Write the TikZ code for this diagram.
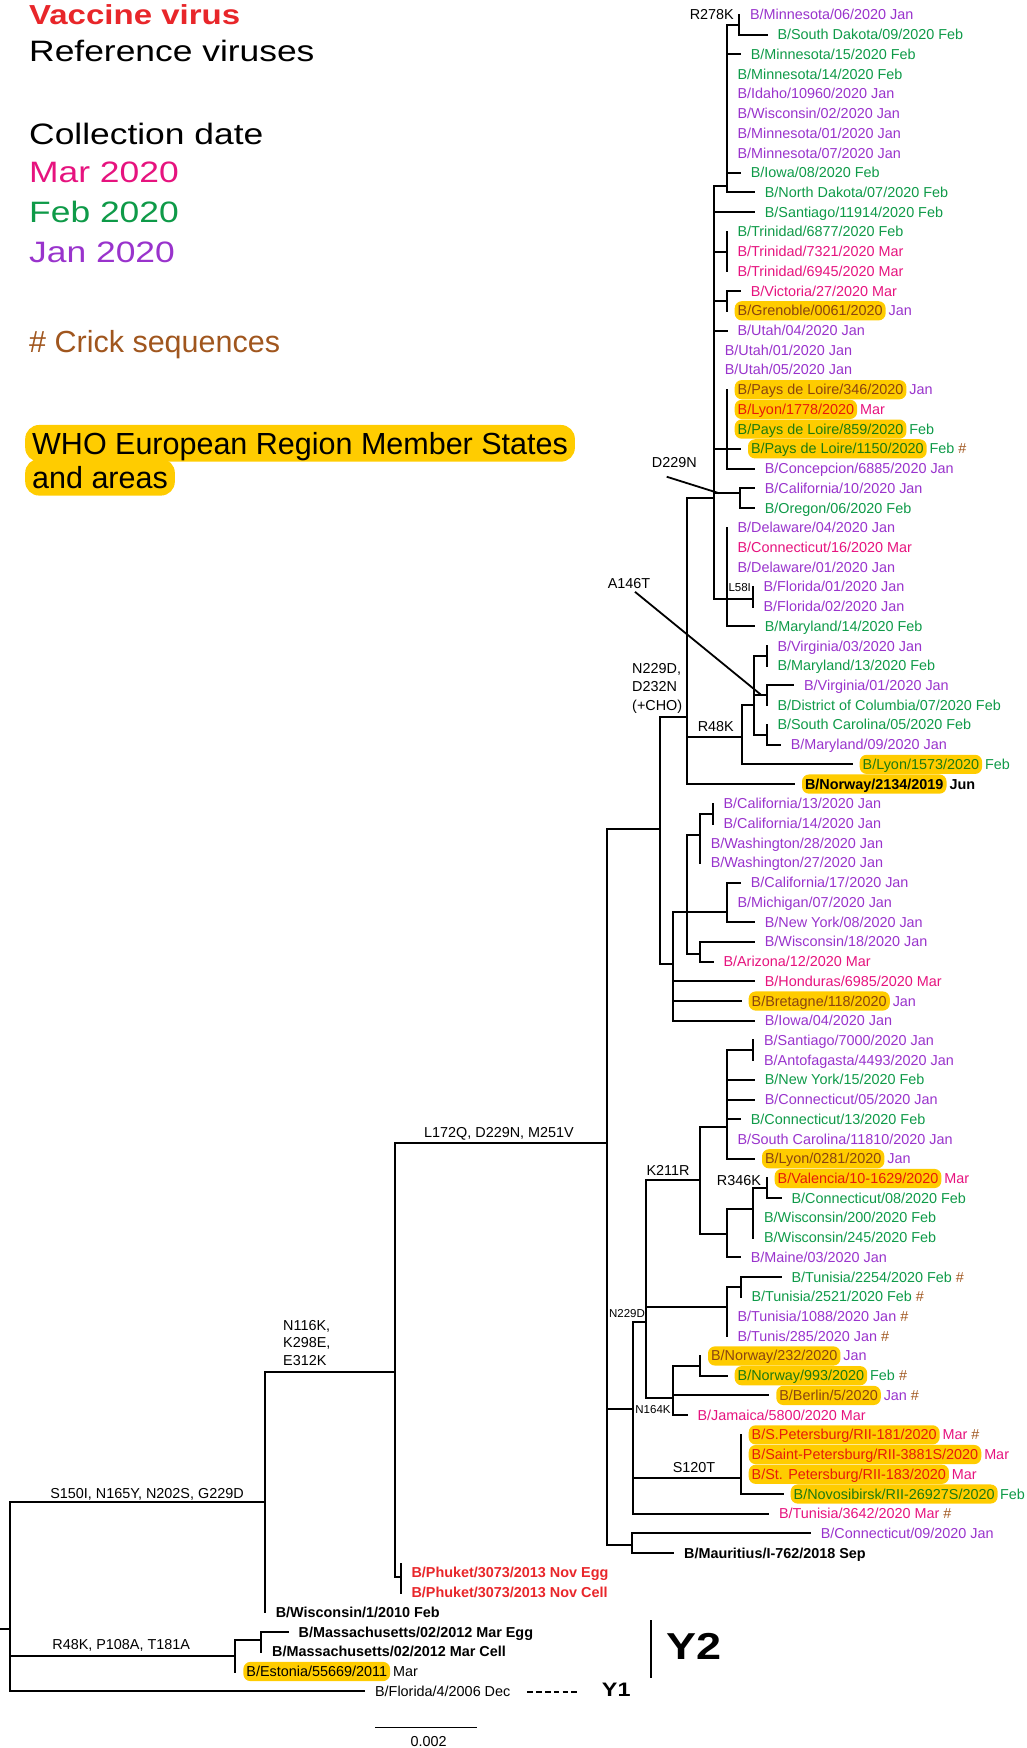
\documentclass[tikz,border=0pt]{standalone}
\usepackage{fontspec}
\setmainfont{Liberation Sans}
\newfontfamily\legendfont[FakeStretch=1.2]{Liberation Sans}
\usetikzlibrary{positioning}

\definecolor{jan}{HTML}{9933CC}
\definecolor{feb}{HTML}{0E9A48}
\definecolor{mar}{HTML}{E6137E}
\definecolor{crick}{HTML}{A0561E}
\definecolor{vacc}{HTML}{E8262A}
\definecolor{hly}{HTML}{FFCC00}
\definecolor{janhl}{HTML}{8A4410}
\definecolor{febhl}{HTML}{1E7A0E}
\definecolor{marhl}{HTML}{E61A0A}

\newcommand\leaffont{\fontsize{14.4}{17}\selectfont}
\newcommand\minifont{\fontsize{11.5}{13}\selectfont}
\newcommand\crk{\textcolor{crick}{\#}}

\begin{document}
\begin{tikzpicture}[x=1pt,y=-19.72pt,
    br/.style={line width=2pt,line cap=rect},
    ptr/.style={line width=1.8pt},
    lf/.style={anchor=west,inner xsep=10.6pt,inner ysep=0pt,text height=11pt,text depth=1pt,font=\leaffont},
    hl/.style={anchor=west,fill=hly,rounded corners=7pt,inner xsep=3pt,outer xsep=8pt,inner ysep=3.6pt,
      text height=11pt,text depth=1pt,font=\leaffont},
    mon/.style={inner sep=0pt,outer sep=0pt,text height=11pt,text depth=1pt,font=\leaffont},
    mut/.style={inner sep=0pt,font=\leaffont},
    smut/.style={inner sep=0pt,font=\minifont},
    leg/.style={anchor=base west,inner sep=0pt},
    whobox/.style={anchor=west,fill=hly,rounded corners=14pt,inner xsep=7pt,inner ysep=5.35pt,
      text height=24pt,text depth=2pt,font=\fontsize{30.5}{34}\selectfont}]
\useasboundingbox (0,0.2394) rectangle (1026,88.88);

% legend
\node[leg,text=vacc,font=\legendfont\fontsize{27.5}{30}\selectfont\bfseries] (kVacc) at (29,1.5) {Vaccine virus};
\node[leg,font=\legendfont\fontsize{29.5}{32}\selectfont] (kRef) at (29,3.38) {Reference viruses};
\node[leg,font=\legendfont\fontsize{29.5}{32}\selectfont] (kDate) at (29,7.56) {Collection date};
\node[leg,text=mar,font=\legendfont\fontsize{29.5}{32}\selectfont] (kMar) at (29,9.5) {Mar 2020};
\node[leg,text=feb,font=\legendfont\fontsize{29.5}{32}\selectfont] (kFeb) at (29,11.52) {Feb 2020};
\node[leg,text=jan,font=\legendfont\fontsize{29.5}{32}\selectfont] (kJan) at (29,13.55) {Jan 2020};
\node[leg,text=crick,font=\fontsize{30.5}{34}\selectfont] (kCrick) at (29,18.1) {\# Crick sequences};
\node[whobox] (kWho2) at (25,24.44) {and areas};
\node[whobox] (kWho1) at (25,22.72) {WHO European Region Member States};

% leaves
\node[lf,text=jan] (l1) at (739.3,1) {B/Minnesota/06/2020 Jan};
\node[lf,text=feb] (l2) at (766.7,2) {B/South Dakota/09/2020 Feb};
\node[lf,text=feb] (l3) at (740,3) {B/Minnesota/15/2020 Feb};
\node[lf,text=feb] (l4) at (726.7,4) {B/Minnesota/14/2020 Feb};
\node[lf,text=jan] (l5) at (726.7,5) {B/Idaho/10960/2020 Jan};
\node[lf,text=jan] (l6) at (726.7,6) {B/Wisconsin/02/2020 Jan};
\node[lf,text=jan] (l7) at (726.7,7) {B/Minnesota/01/2020 Jan};
\node[lf,text=jan] (l8) at (726.7,8) {B/Minnesota/07/2020 Jan};
\node[lf,text=feb] (l9) at (740,9) {B/Iowa/08/2020 Feb};
\node[lf,text=feb] (l10) at (754,10) {B/North Dakota/07/2020 Feb};
\node[lf,text=feb] (l11) at (754,11) {B/Santiago/11914/2020 Feb};
\node[lf,text=feb] (l12) at (726.7,12) {B/Trinidad/6877/2020 Feb};
\node[lf,text=mar] (l13) at (726.7,13) {B/Trinidad/7321/2020 Mar};
\node[lf,text=mar] (l14) at (726.7,14) {B/Trinidad/6945/2020 Mar};
\node[lf,text=mar] (l15) at (740,15) {B/Victoria/27/2020 Mar};
\node[hl,text=janhl] (l16) at (726.7,16) {B/Grenoble/0061/2020};
\node[mon,text=jan,right=-5pt of l16] (m16) {Jan};
\node[lf,text=jan] (l17) at (726.7,17) {B/Utah/04/2020 Jan};
\node[lf,text=jan] (l18) at (714,18) {B/Utah/01/2020 Jan};
\node[lf,text=jan] (l19) at (714,19) {B/Utah/05/2020 Jan};
\node[hl,text=janhl] (l20) at (726.7,20) {B/Pays de Loire/346/2020};
\node[mon,text=jan,right=-5pt of l20] (m20) {Jan};
\node[hl,text=marhl] (l21) at (726.7,21) {B/Lyon/1778/2020};
\node[mon,text=mar,right=-5pt of l21] (m21) {Mar};
\node[hl,text=febhl] (l22) at (726.7,22) {B/Pays de Loire/859/2020};
\node[mon,text=feb,right=-5pt of l22] (m22) {Feb};
\node[hl,text=febhl] (l23) at (740,23) {B/Pays de Loire/1150/2020};
\node[mon,text=feb,right=-5pt of l23] (m23) {Feb \crk};
\node[lf,text=jan] (l24) at (754,24) {B/Concepcion/6885/2020 Jan};
\node[lf,text=jan] (l25) at (754,25) {B/California/10/2020 Jan};
\node[lf,text=feb] (l26) at (754,26) {B/Oregon/06/2020 Feb};
\node[lf,text=jan] (l27) at (726.7,27) {B/Delaware/04/2020 Jan};
\node[lf,text=mar] (l28) at (726.7,28) {B/Connecticut/16/2020 Mar};
\node[lf,text=jan] (l29) at (726.7,29) {B/Delaware/01/2020 Jan};
\node[lf,text=jan] (l30) at (752.7,30) {B/Florida/01/2020 Jan};
\node[lf,text=jan] (l31) at (752.7,31) {B/Florida/02/2020 Jan};
\node[lf,text=feb] (l32) at (754,32) {B/Maryland/14/2020 Feb};
\node[lf,text=jan] (l33) at (766.7,33) {B/Virginia/03/2020 Jan};
\node[lf,text=feb] (l34) at (766.7,34) {B/Maryland/13/2020 Feb};
\node[lf,text=jan] (l35) at (793.3,35) {B/Virginia/01/2020 Jan};
\node[lf,text=feb] (l36) at (766.7,36) {B/District of Columbia/07/2020 Feb};
\node[lf,text=feb] (l37) at (766.7,37) {B/South Carolina/05/2020 Feb};
\node[lf,text=jan] (l38) at (780,38) {B/Maryland/09/2020 Jan};
\node[hl,text=febhl] (l39) at (851.7,39) {B/Lyon/1573/2020};
\node[mon,text=feb,right=-5pt of l39] (m39) {Feb};
\node[hl,font=\leaffont\bfseries] (l40) at (794,40) {B/Norway/2134/2019};
\node[mon,font=\leaffont\bfseries,right=-5pt of l40] (m40) {Jun};
\node[lf,text=jan] (l41) at (712.7,41) {B/California/13/2020 Jan};
\node[lf,text=jan] (l42) at (712.7,42) {B/California/14/2020 Jan};
\node[lf,text=jan] (l43) at (700,43) {B/Washington/28/2020 Jan};
\node[lf,text=jan] (l44) at (700,44) {B/Washington/27/2020 Jan};
\node[lf,text=jan] (l45) at (740,45) {B/California/17/2020 Jan};
\node[lf,text=jan] (l46) at (726.7,46) {B/Michigan/07/2020 Jan};
\node[lf,text=jan] (l47) at (754,47) {B/New York/08/2020 Jan};
\node[lf,text=jan] (l48) at (754,48) {B/Wisconsin/18/2020 Jan};
\node[lf,text=mar] (l49) at (712.7,49) {B/Arizona/12/2020 Mar};
\node[lf,text=mar] (l50) at (754,50) {B/Honduras/6985/2020 Mar};
\node[hl,text=janhl] (l51) at (740.7,51) {B/Bretagne/118/2020};
\node[mon,text=jan,right=-5pt of l51] (m51) {Jan};
\node[lf,text=jan] (l52) at (754,52) {B/Iowa/04/2020 Jan};
\node[lf,text=jan] (l53) at (753.3,53) {B/Santiago/7000/2020 Jan};
\node[lf,text=jan] (l54) at (753.3,54) {B/Antofagasta/4493/2020 Jan};
\node[lf,text=feb] (l55) at (754,55) {B/New York/15/2020 Feb};
\node[lf,text=jan] (l56) at (754,56) {B/Connecticut/05/2020 Jan};
\node[lf,text=feb] (l57) at (740,57) {B/Connecticut/13/2020 Feb};
\node[lf,text=jan] (l58) at (726.7,58) {B/South Carolina/11810/2020 Jan};
\node[hl,text=janhl] (l59) at (754,59) {B/Lyon/0281/2020};
\node[mon,text=jan,right=-5pt of l59] (m59) {Jan};
\node[hl,text=marhl] (l60) at (766.7,60) {B/Valencia/10-1629/2020};
\node[mon,text=mar,right=-5pt of l60] (m60) {Mar};
\node[lf,text=feb] (l61) at (780.7,61) {B/Connecticut/08/2020 Feb};
\node[lf,text=feb] (l62) at (753.3,62) {B/Wisconsin/200/2020 Feb};
\node[lf,text=feb] (l63) at (753.3,63) {B/Wisconsin/245/2020 Feb};
\node[lf,text=jan] (l64) at (740,64) {B/Maine/03/2020 Jan};
\node[lf,text=feb] (l65) at (780.7,65) {B/Tunisia/2254/2020 Feb \crk};
\node[lf,text=feb] (l66) at (740.7,66) {B/Tunisia/2521/2020 Feb \crk};
\node[lf,text=jan] (l67) at (726.7,67) {B/Tunisia/1088/2020 Jan \crk};
\node[lf,text=jan] (l68) at (726.7,68) {B/Tunis/285/2020 Jan \crk};
\node[hl,text=janhl] (l69) at (700,69) {B/Norway/232/2020};
\node[mon,text=jan,right=-5pt of l69] (m69) {Jan};
\node[hl,text=febhl] (l70) at (726.7,70) {B/Norway/993/2020};
\node[mon,text=feb,right=-5pt of l70] (m70) {Feb \crk};
\node[hl,text=janhl] (l71) at (768.3,71) {B/Berlin/5/2020};
\node[mon,text=jan,right=-5pt of l71] (m71) {Jan \crk};
\node[lf,text=mar] (l72) at (686.7,72) {B/Jamaica/5800/2020 Mar};
\node[hl,text=marhl] (l73) at (740.7,73) {B/S.Petersburg/RII-181/2020};
\node[mon,text=mar,right=-5pt of l73] (m73) {Mar \crk};
\node[hl,text=marhl] (l74) at (740.7,74) {B/Saint-Petersburg/RII-3881S/2020};
\node[mon,text=mar,right=-5pt of l74] (m74) {Mar};
\node[hl,text=marhl] (l75) at (740.7,75) {B/St. Petersburg/RII-183/2020};
\node[mon,text=mar,right=-5pt of l75] (m75) {Mar};
\node[hl,text=febhl] (l76) at (782.7,76) {B/Novosibirsk/RII-26927S/2020};
\node[mon,text=feb,right=-5.5pt of l76] (m76) {Feb};
\node[lf,text=mar] (l77) at (768.3,77) {B/Tunisia/3642/2020 Mar \crk};
\node[lf,text=jan] (l78) at (810,78) {B/Connecticut/09/2020 Jan};
\node[lf,font=\leaffont\bfseries] (l79) at (673.3,79) {B/Mauritius/I-762/2018 Sep};
\node[lf,text=vacc,font=\leaffont\bfseries] (l80) at (400.7,80) {B/Phuket/3073/2013 Nov Egg};
\node[lf,text=vacc,font=\leaffont\bfseries] (l81) at (400.7,81) {B/Phuket/3073/2013 Nov Cell};
\node[lf,font=\leaffont\bfseries] (l82) at (265,82) {B/Wisconsin/1/2010 Feb};
\node[lf,font=\leaffont\bfseries] (l83) at (287.8,83) {B/Massachusetts/02/2012 Mar Egg};
\node[lf,font=\leaffont\bfseries] (l84) at (261.4,84) {B/Massachusetts/02/2012 Mar Cell};
\node[hl] (l85) at (235.4,85) {B/Estonia/55669/2011};
\node[mon,right=-5pt of l85] (m85) {Mar};
\node[lf] (l86) at (364.3,86) {B/Florida/4/2006 Dec};

% inner nodes of the tree
\coordinate (nR278K) at (739.3,1.5);
\coordinate (c1) at (726.7,9.65);
\coordinate (cTri) at (726.7,13);
\coordinate (cVic) at (726.7,15.5);
\coordinate (cPdL) at (726.7,23);
\coordinate (nD229N) at (740,25.25);
\coordinate (cDel) at (726.7,30.6);
\coordinate (nL58I) at (752.7,30.6);
\coordinate (g714) at (714,25.5);
\coordinate (cVM) at (766.7,33.5);
\coordinate (cVD) at (766.7,35.5);
\coordinate (cSM) at (766.7,37.5);
\coordinate (c754) at (754,36);
\coordinate (nR48K) at (741.7,37.6);
\coordinate (g687) at (686.7,36.6);
\coordinate (cCC) at (712.7,41.5);
\coordinate (cCW) at (700,42.6);
\coordinate (cCMN) at (726.7,46.5);
\coordinate (cWA) at (700,48.6);
\coordinate (a687) at (686.7,46.5);
\coordinate (g673) at (672.7,49.1);
\coordinate (g660) at (660,42.3);
\coordinate (cSA) at (753.3,53.5);
\coordinate (c727a) at (726.7,57.4);
\coordinate (cVC) at (766.7,60.5);
\coordinate (nR346K) at (753.3,61.55);
\coordinate (c727b) at (726.7,62.8);
\coordinate (nK211R) at (700,60.1);
\coordinate (cT2) at (740.7,65.5);
\coordinate (cTun) at (726.7,66.5);
\coordinate (cNo) at (700,69.5);
\coordinate (nN164K) at (672.7,71.15);
\coordinate (nN229D) at (646,67.3);
\coordinate (nS120T) at (740.7,75.2);
\coordinate (g633) at (633.3,71.7);
\coordinate (cCM) at (631.7,78.6);
\coordinate (g606) at (606.7,58.2);
\coordinate (cPh) at (400.7,80.2);
\coordinate (g395) at (395,69.8);
\coordinate (g265) at (265,76.4);
\coordinate (cMa) at (261.4,83.4);
\coordinate (nR48Kb) at (235.4,84.2);
\coordinate (root) at (9.6,82.86);
\coordinate (stub) at (0,82.86);

% branches, upper part
\draw[br] (l1.west) |- (l2.west);
\draw[br] (nR278K) -| (l10.west -| c1) -- (l10.west)
  (l3.west -| c1) -- (l3.west) (l9.west -| c1) -- (l9.west);
\draw[br] (l12.west) -- (l14.west);
\draw[br] (l16.west) |- (l15.west);
\draw[br] (l20.west) |- (l24.west) (l23.west -| l20.west) -- (l23.west);
\draw[br] (l25.west) -- (l25.west -| nD229N) |- (l26.west);
\draw[br] (l27.west) |- (l32.west);
\draw[br] (l30.west) -- (l31.west);
\draw[br] (c1) -| (cDel -| g714) -- (nL58I)
  (l11.west -| g714) -- (l11.west) (cTri -| g714) -- (cTri)
  (cVic -| g714) -- (cVic) (l17.west -| g714) -- (l17.west)
  (cPdL -| g714) -- (cPdL) (nD229N -| g714) -- (nD229N);
\draw[br] (l33.west) -- (l34.west);
\draw[br] (l36.west) |- (l35.west);
\draw[br] (l37.west) |- (l38.west);
\draw[br] (cVM -| c754) -- (cSM -| c754) (cVM -| c754) -- (cVM)
  (cVD -| c754) -- (cVD) (cSM -| c754) -- (cSM);
\draw[br] (c754 -| nR48K) -- (c754) (c754 -| nR48K) |- (l39.west);
\draw[br] (g714) -| (l40.west -| g687) -- (l40.west) (nR48K -| g687) -- (nR48K);

% branches, middle part
\draw[br] (l41.west) -- (l42.west);
\draw[br] (cCC) -| (l44.west);
\draw[br] (l45.west) -| (l46.west) |- (l47.west);
\draw[br] (l48.west) -| (cWA) |- (l49.west);
\draw[br] (cCW) -| (cWA -| a687) -- (cWA) (cCMN -| a687) -- (cCMN);
\draw[br] (a687) -| (l52.west -| g673) -- (l52.west)
  (l50.west -| g673) -- (l50.west) (l51.west -| g673) -- (l51.west);
\draw[br] (g687) -| (g673 -| g660) -- (g673);

% branches, lower part
\draw[br] (l53.west) -- (l54.west);
\draw[br] (cSA) -| (l59.west -| c727a) -- (l59.west) (l55.west -| c727a) -- (l55.west)
  (l56.west -| c727a) -- (l56.west) (l57.west -| c727a) -- (l57.west);
\draw[br] (l60.west) |- (l61.west);
\draw[br] (cVC) -| (l63.west);
\draw[br] (nR346K) -| (l64.west -| c727b) -- (l64.west);
\draw[br] (c727a) -| (c727b -| nK211R) -- (c727b);
\draw[br] (l65.west) -| (l66.west);
\draw[br] (cT2) -| (l68.west);
\draw[br] (l69.west) |- (l70.west);
\draw[br] (cNo) -| (l72.west -| nN164K) -- (l72.west) (l71.west -| nN164K) -- (l71.west);
\draw[br] (nK211R) -| (nN164K -| nN229D) -- (nN164K) (cTun -| nN229D) -- (cTun);
\draw[br] (l73.west) |- (l76.west);
\draw[br] (nN229D) -| (l77.west -| g633) -- (l77.west) (nS120T -| g633) -- (nS120T);
\draw[br] (l78.west) -| (cCM) |- (l79.west);
\draw[br] (g660) -| (cCM -| g606) -- (cCM) (g633 -| g606) -- (g633);

% branches, reference viruses and root
\draw[br] ([yshift=9pt]l80.west) -- (l81.west);
\draw[br] (g606) -| (cPh -| g395) -- (cPh);
\draw[br] (g395) -| (l82.west);
\draw[br] (l84.west) |- (l83.west);
\draw[br] (cMa) -| (l85.west);
\draw[br] (g265) -| (l86.west -| root) -- (l86.west) (nR48Kb -| root) -- (nR48Kb);
\draw[br] (root) -- (stub);

% substitutions
\node[mut,anchor=east] (mR278K) at (734,1) {R278K};
\node[mut] (mD229N) at (674.3,23.7) {D229N};
\node[mut] (mA146T) at (629,29.82) {A146T};
\node[smut] (mL58I) at (739.7,30.02) {L58I};
\node[mut,anchor=west,align=left,font=\fontsize{14.4}{18.3}\selectfont] (mCHO) at (632,35.14) {N229D,\\D232N\\(+CHO)};
\node[mut] (mR48K) at (715.8,37.09) {R48K};
\node[mut] (mL172Q) at (499,57.71) {L172Q, D229N, M251V};
\node[mut] (mK211R) at (668,59.57) {K211R};
\node[mut] (mR346K) at (739,60.11) {R346K};
\node[smut] (mN229Db) at (627,66.84) {N229D};
\node[mut,anchor=west,align=left,font=\fontsize{14.4}{17.6}\selectfont] (mN116K) at (283,68.33) {N116K,\\K298E,\\E312K};
\node[smut] (mN164K) at (653,71.7) {N164K};
\node[mut] (mS120T) at (694,74.65) {S120T};
\node[mut] (mS150I) at (147,76.0) {S150I, N165Y, N202S, G229D};
\node[mut] (mR48Kb) at (121.2,83.66) {R48K, P108A, T181A};

\coordinate (pD) at (719,25.25);
\draw[ptr] ([shift={(-7.6pt,-8.8pt)}]mD229N.south) -- (pD);
\draw[ptr] ([shift={(6pt,-3.2pt)}]mA146T.south) -- ([xshift=-5pt]cVD);

% genetic groups
\coordinate (y2top) at (651,82.39);
\coordinate (y2bot) at (651,85.31);
\draw[line width=1.6pt] (y2top) -- (y2bot);
\node[anchor=west,inner sep=0pt,font=\legendfont\fontsize{37.5}{40}\selectfont\bfseries] (kY2) at (666.7,83.74) {Y2};
\node[anchor=west,inner sep=0pt,font=\legendfont\fontsize{19.5}{22}\selectfont\bfseries] (kY1) at (601.7,85.94) {Y1};
\coordinate (dsh) at (527.4,86.03);
\draw[line width=1.6pt,dash pattern=on 5.5pt off 3.3pt] (dsh) -- (dsh -| 578,0);

% scale bar
\coordinate (sbL) at (375,87.83);
\coordinate (sbR) at (476.5,87.83);
\draw[line width=1.6pt] (sbL) -- (sbR);
\node[mut] (sbLab) at (428.6,88.53) {0.002};
\end{tikzpicture}
\end{document}
